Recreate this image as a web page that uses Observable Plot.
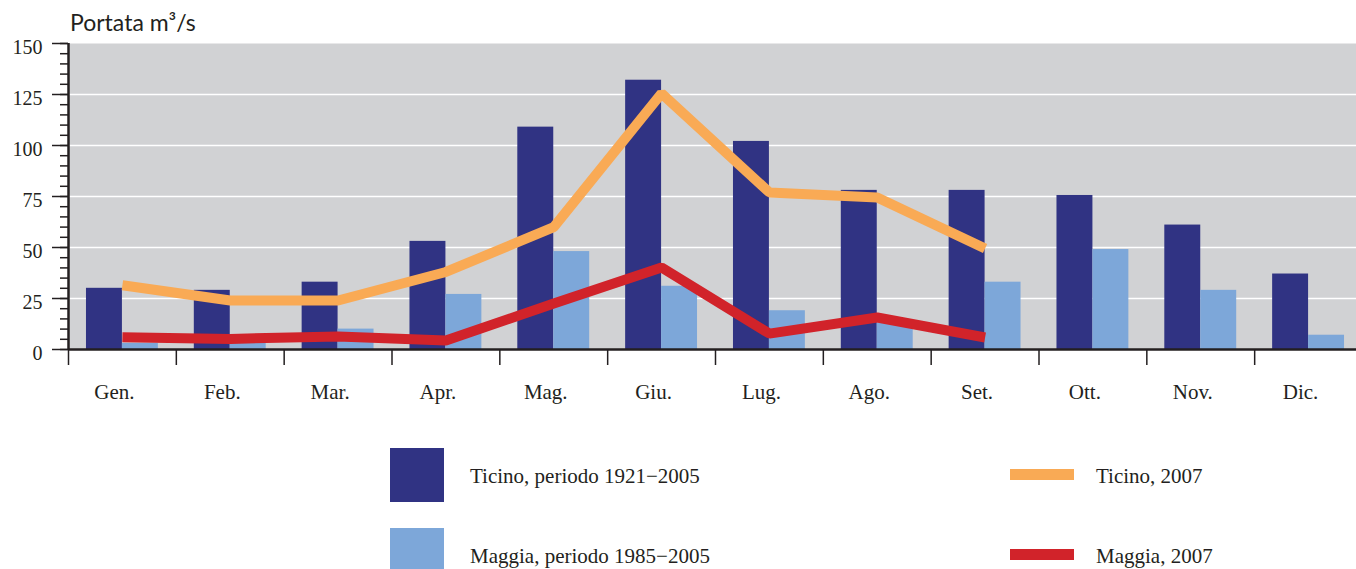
<!DOCTYPE html>
<html>
<head>
<meta charset="utf-8">
<script src="https://cdn.jsdelivr.net/npm/d3@7"></script>
<script src="https://cdn.jsdelivr.net/npm/@observablehq/plot@0.6"></script>
<style>
  html, body { margin: 0; padding: 0; background: white; overflow: hidden; width: 1356px; height: 569px; }
  #wrap { position: relative; width: 1356px; height: 569px; overflow: hidden; }
  #chart { position: absolute; left: 0; top: 0; width: 1362px; }
  #chart svg { max-width: none !important; }
  .title { position: absolute; left: 70px; top: 11px; font-family: Lato, sans-serif; font-size: 23px; line-height: 1; color: #231f20; white-space: nowrap; }
  .lg { position: absolute; font-family: "Liberation Serif", serif; font-size: 21px; line-height: 1; color: #231f20; white-space: nowrap; }
  .sw { position: absolute; }
</style>
</head>
<body>
<div id="wrap">
  <div id="chart"></div>
  <div class="title">Portata m³/s</div>
  <div class="sw" style="left:390px;top:448px;width:54px;height:54px;background:#303383"></div>
  <div class="lg" style="left:470px;top:466px">Ticino, periodo 1921−2005</div>
  <div class="sw" style="left:390px;top:528px;width:54px;height:54px;background:#7da7d9"></div>
  <div class="lg" style="left:470px;top:546px">Maggia, periodo 1985−2005</div>
  <div class="sw" style="left:1010px;top:469px;width:64px;height:11px;background:#f9aa55"></div>
  <div class="lg" style="left:1096px;top:466px">Ticino, 2007</div>
  <div class="sw" style="left:1010px;top:549px;width:64px;height:11px;background:#d1232a"></div>
  <div class="lg" style="left:1096px;top:546px">Maggia, 2007</div>
</div>
<script>
const months = ["Gen.", "Feb.", "Mar.", "Apr.", "Mag.", "Giu.", "Lug.", "Ago.", "Set.", "Ott.", "Nov.", "Dic."];
const ticinoMean = [30, 29, 33, 53, 109, 132, 102, 78, 78, 75.5, 61, 37];
const maggiaMean = [3, 3, 10, 27, 48, 31, 19, 13, 33, 49, 29, 7];
const ticino2007 = [31.5, 24, 24, 38, 60, 125.5, 77, 74.5, 49.5];
const maggia2007 = [6, 5.2, 6.4, 4.4, 22.5, 40.2, 7.8, 15.7, 5.9];
const yTicks = [0, 25, 50, 75, 100, 125, 150];
const yMinorTicks = d3.range(0, 151, 5);

const bars = months.map((m, i) => ({month: m, ticino: ticinoMean[i], maggia: maggiaMean[i]}));
const lines2007 = ticino2007.map((v, i) => ({month: months[i], ticino: v, maggia: maggia2007[i]}));

const W = 1362, ML = 68, MR = 0;
const step = (W - ML - MR) / months.length;
const bw = step * 2 / 3;
const ink = "#231f20";
const serif = "'Liberation Serif', 'Times New Roman', serif";

const chart = Plot.plot({
  width: W,
  height: 420,
  marginLeft: ML,
  marginRight: MR,
  marginTop: 43,
  marginBottom: 71,
  style: {fontFamily: serif, fontSize: "20px", color: ink, background: "transparent", overflow: "visible"},
  x: {type: "band", domain: months, paddingInner: 1/3, paddingOuter: 1/6, round: false, label: null},
  y: {domain: [0, 150], label: null},
  marks: [
    Plot.frame({fill: "#d1d2d4", stroke: null}),
    Plot.gridY(yTicks.slice(1, -1), {stroke: "white", strokeOpacity: 1, strokeWidth: 1.5}),
    Plot.barY(bars, {x: "month", y: "ticino", fill: "#303383", insetRight: bw / 2, insetLeft: 0}),
    Plot.barY(bars, {x: "month", y: "maggia", fill: "#7da7d9", insetLeft: bw / 2, insetRight: 0}),
    Plot.line(lines2007, {x: "month", y: "ticino", stroke: "#f9aa55", strokeWidth: 10, strokeLinejoin: "miter", strokeLinecap: "butt"}),
    Plot.line(lines2007, {x: "month", y: "maggia", stroke: "#d1232a", strokeWidth: 10, strokeLinejoin: "miter", strokeLinecap: "butt"}),
    Plot.ruleY([0], {stroke: ink, strokeWidth: 2.5}),
    Plot.ruleX([months[0]], {dx: -step / 2, stroke: ink, strokeWidth: 2.5}),
    Plot.axisY({ticks: yMinorTicks, tickSize: 8, text: null, stroke: ink, strokeWidth: 1.5}),
    Plot.axisY({ticks: yTicks, tickSize: 16, text: null, stroke: ink, strokeWidth: 1.5}),
    Plot.axisY({ticks: yTicks, tickSize: 0, tickPadding: 26, dy: 4, fontSize: 20, fontFamily: serif, fill: ink}),
    Plot.axisX({tickSize: 16, text: null, dx: -step / 2, stroke: ink, strokeWidth: 1.5}),
    Plot.axisX({tickSize: 0, tickPadding: 35, dx: -8, fontSize: 21, fontFamily: serif, fill: ink})
  ]
});
document.getElementById("chart").appendChild(chart);
</script>
</body>
</html>
